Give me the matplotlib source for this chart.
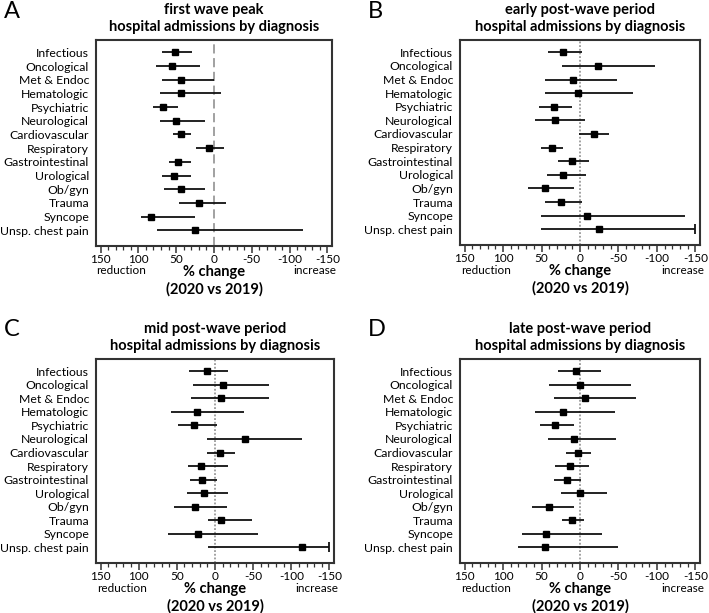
import matplotlib
matplotlib.use("Agg")
import matplotlib.pyplot as plt
from matplotlib.ticker import MultipleLocator

plt.rcParams['font.family'] = ['Lato', 'DejaVu Sans']

diagnoses = ["Infectious", "Oncological", "Met & Endoc", "Hematologic", "Psychiatric",
             "Neurological", "Cardiovascular", "Respiratory", "Gastrointestinal",
             "Urological", "Ob/gyn", "Trauma", "Syncope", "Unsp. chest pain"]

# % change (2020 vs 2019), positive = reduction; lower / upper CI ends
peak_est = [52, 56, 44, 44, 67, 50, 44, 6, 48, 53, 44, 20, 83, 25]
peak_lo = [69, 77, 69, 72, 80, 72, 54, 24, 60, 69, 66, 46, 97, 75]
peak_hi = [29, 19, 0, -9, 47, 12, 31, -13, 31, 30, 12, -16, 25, -117]

early_est = [22, -23, 9, 3, 34, 33, -18, 37, 11, 22, 45, 25, -9, -25]
early_lo = [42, 24, 45, 45, 53, 58, 1, 51, 29, 43, 68, 46, 51, 51]
early_hi = [-3, -97, -48, -69, 10, -7, -38, 22, -12, -8, 8, -3, -137, -150]

mid_est = [11, -11, -8, 24, 27, -39, -6, 18, 17, 15, 26, -8, 22, -114]
mid_lo = [34, 29, 31, 58, 48, 10, 10, 36, 33, 37, 54, 9, 62, 9]
mid_hi = [-17, -71, -71, -38, -2, -114, -26, -17, -3, -17, -16, -49, -57, -150]

late_est = [5, 0, -6, 22, 33, 8, 3, 13, 17, 0, 40, 11, 44, 45]
late_lo = [28, 40, 34, 58, 52, 42, 18, 32, 34, 25, 63, 23, 75, 80]
late_hi = [-27, -66, -73, -46, 8, -47, -14, -12, -1, -35, 8, -5, -29, -49]

panels = [
    ("A", "first wave peak", peak_est, peak_lo, peak_hi, (96, 246, 236, 206), (0, (6, 3))),
    ("B", "early post-wave period", early_est, early_lo, early_hi, (460, 245, 240, 205), (0, (1.2, 1.2))),
    ("C", "mid post-wave period", mid_est, mid_lo, mid_hi, (96, 563, 238, 204), (0, (1.2, 1.2))),
    ("D", "late post-wave period", late_est, late_lo, late_hi, (460, 563, 240, 204), (0, (1.2, 1.2))),
]

W, H = 709, 613
fig = plt.figure(figsize=(W / 100, H / 100), dpi=100)
clip = -150
ypos = list(range(len(diagnoses)))

for letter, title, est, lo, hi, (x0, ybot, w, h), ls in panels:
    ax = fig.add_axes([x0 / W, (H - ybot) / H, w / W, h / H])
    ax.axvline(0, color="#888888", lw=1.1, ls=ls, zorder=1)
    hi_c = [max(v, clip) for v in hi]
    ax.hlines(ypos, lo, hi_c, color="#111111", lw=1.3, zorder=2)
    for y, v in zip(ypos, hi):
        if v <= clip:
            ax.plot(clip, y, marker="|", ms=7, mew=1.3, color="#111111")
    ax.plot(est, ypos, "s", ms=5, color="#000000", zorder=3)

    ax.set_xlim(156, -156)
    ax.set_ylim(len(diagnoses) - 1 + 1.15, -0.9)
    ax.set_yticks(ypos)
    ax.set_yticklabels(diagnoses, fontsize=8.8)
    ax.tick_params(axis="y", length=0, pad=5)
    ax.set_xticks([150, 100, 50, 0, -50, -100, -150])
    ax.set_xticklabels(["150", "100", "50", "0", "-50", "-100", "-150"], fontsize=8.5)
    ax.xaxis.set_minor_locator(MultipleLocator(10))
    ax.tick_params(axis="x", which="major", length=5, width=1.1, pad=1, color="#333333")
    ax.tick_params(axis="x", which="minor", length=3, width=0.9, color="#333333")
    for s in ax.spines.values():
        s.set_linewidth(1.5)
        s.set_color("#333333")

    tr = ax.get_xaxis_transform()
    ax.annotate("reduction", xy=(150, 0), xycoords=tr, xytext=(21, -25),
                textcoords="offset pixels", ha="center", va="center", fontsize=8.5)
    ax.annotate("increase", xy=(-150, 0), xycoords=tr, xytext=(-13, -25),
                textcoords="offset pixels", ha="center", va="center", fontsize=8.5)
    ax.annotate("% change", xy=(0, 0), xycoords=tr, xytext=(0, -26),
                textcoords="offset pixels", ha="center", va="center", fontsize=10.5,
                fontweight="bold")
    ax.annotate("(2020 vs 2019)", xy=(0, 0), xycoords=tr, xytext=(0, -43),
                textcoords="offset pixels", ha="center", va="center", fontsize=10.5,
                fontweight="bold")

    ax.annotate(title, xy=(0.5, 1), xycoords="axes fraction", xytext=(0, 30),
                textcoords="offset pixels", ha="center", va="center", fontsize=10.5,
                fontweight="bold")
    ax.annotate("hospital admissions by diagnosis", xy=(0.5, 1), xycoords="axes fraction",
                xytext=(0, 13), textcoords="offset pixels", ha="center", va="center",
                fontsize=10.5, fontweight="bold")

    fig.text((x0 - 92) / W, 1 - (ybot - 234) / H, letter, fontsize=17, ha="left", va="center")

fig.savefig("out.png", dpi=100)
